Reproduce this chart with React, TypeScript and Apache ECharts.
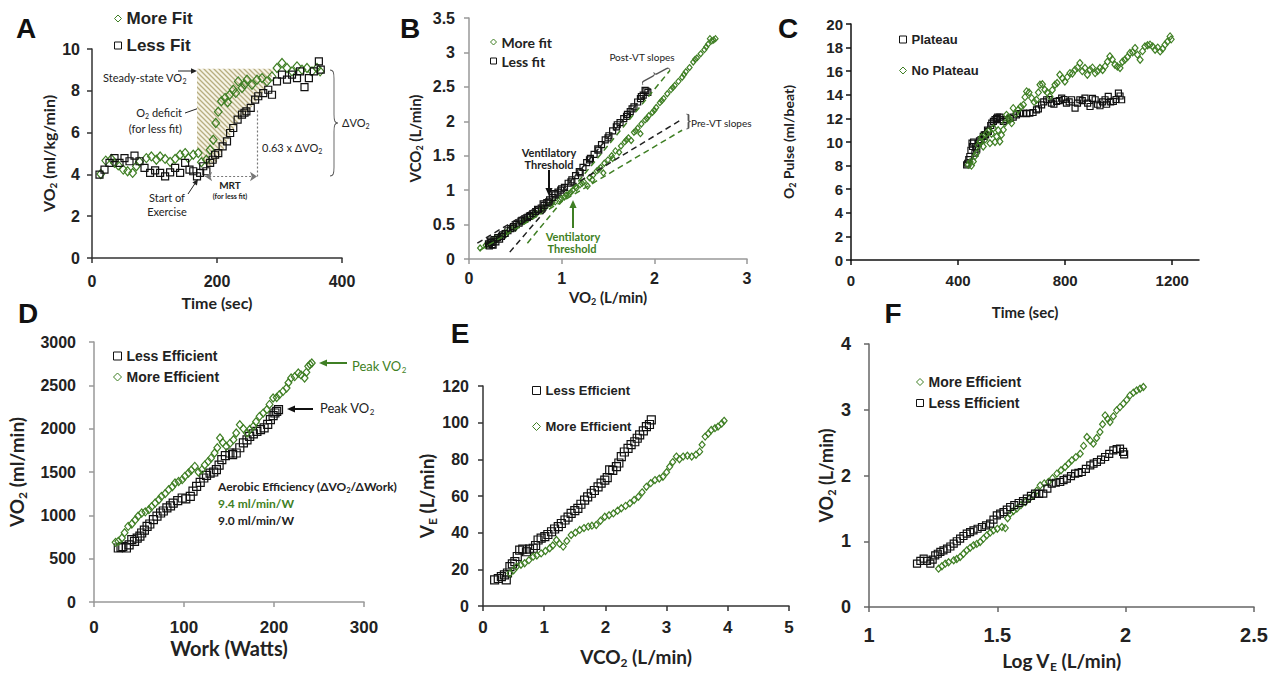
import React, { useEffect, useRef } from "react";
import * as echarts from "echarts";

const GREEN = "#3f7f24";
const BLACK = "#111";
const FT = "'Liberation Sans', Arial, sans-serif";
const FC = "Lato, 'Open Sans', sans-serif";

// ---------- Panel A: VO2 vs time ----------
const aMoreFit: number[][] = [
  [14, 4.02], [22, 4.66], [31, 4.74], [36, 4.55], [42, 4.43], [50, 4.23], [57, 4.15], [65, 4.07], [71, 4.39], [76, 4.6],
  [87, 4.78], [95, 4.86], [103, 4.7], [109, 4.86], [117, 4.74], [125, 4.6], [133, 4.74], [141, 4.94], [149, 5.02],
  [154, 4.78], [162, 4.94], [170, 5.02], [175, 4.58], [183, 4.7], [189, 5.18], [194, 5.66], [198, 6.46], [202, 7.0],
  [207, 7.5], [213, 7.66], [217, 7.45], [220, 7.8], [226, 8.05], [230, 7.9], [234, 8.45], [240, 8.13], [244, 8.3],
  [248, 8.53], [256, 8.29], [264, 8.53], [272, 8.61], [280, 8.45], [288, 8.69], [296, 9.09], [304, 9.33], [312, 9.09],
  [320, 8.93], [328, 9.17], [336, 9.01], [344, 9.09], [352, 8.93], [360, 9.09], [365, 8.93]
];
const aLessFit: number[][] = [
  [12, 3.99], [20, 4.23], [28, 4.55], [36, 4.78], [44, 4.55], [52, 4.78], [60, 4.63], [68, 4.9], [76, 4.63], [84, 4.31],
  [93, 4.07], [101, 4.19], [109, 4.07], [117, 3.91], [125, 4.1], [133, 4.31], [141, 4.07], [149, 4.55], [156, 4.23],
  [162, 4.15], [168, 3.91], [173, 4.07], [178, 4.39], [183, 4.15], [189, 4.55], [193, 4.7], [197, 4.94], [202, 5.02],
  [209, 5.34], [216, 5.58], [221, 5.98], [226, 6.22], [233, 6.62], [240, 6.86], [244, 6.95], [247, 7.02], [254, 7.18],
  [261, 7.58], [266, 7.74], [274, 7.89], [282, 8.05], [288, 7.81], [296, 8.45], [304, 8.77], [312, 8.53], [320, 8.77],
  [328, 8.61], [333, 8.93], [340, 8.18], [347, 8.61], [355, 8.93], [363, 9.41], [366, 9.01]
];
const aHatch: number[][] = [
  [168, 9.05], [293, 9.05], [282, 8.3], [266, 7.6], [252, 7.1], [238, 6.7], [225, 6.1], [212, 5.3], [200, 4.6],
  [186, 4.3], [168, 5.2]
];

// ---------- Panel B: VCO2 vs VO2 ----------
const bLessFit: number[][] = [
  [0.21, 0.22], [0.23, 0.26], [0.25, 0.21], [0.27, 0.28], [0.29, 0.25], [0.31, 0.31], [0.33, 0.29], [0.36, 0.35],
  [0.39, 0.37], [0.42, 0.41], [0.45, 0.44], [0.48, 0.47], [0.51, 0.5], [0.54, 0.52], [0.57, 0.56], [0.6, 0.58],
  [0.63, 0.6], [0.66, 0.63], [0.69, 0.66], [0.72, 0.69], [0.75, 0.71], [0.78, 0.74], [0.81, 0.78], [0.84, 0.82],
  [0.87, 0.86], [0.9, 0.89], [0.93, 0.93], [0.96, 0.97], [0.99, 1.0], [1.03, 1.04], [1.07, 1.1], [1.11, 1.15],
  [1.15, 1.21], [1.19, 1.27], [1.23, 1.33], [1.27, 1.4], [1.31, 1.46], [1.35, 1.52], [1.39, 1.6], [1.43, 1.66],
  [1.47, 1.73], [1.51, 1.79], [1.55, 1.86], [1.59, 1.92], [1.63, 1.98], [1.67, 2.04], [1.71, 2.1], [1.74, 2.14],
  [1.78, 2.21], [1.82, 2.28], [1.85, 2.33], [1.88, 2.38], [1.91, 2.44], [1.93, 2.42],
  [0.22, 0.19], [0.24, 0.24], [0.26, 0.2], [0.35, 0.33], [0.47, 0.45], [0.56, 0.55], [0.65, 0.62], [0.74, 0.72],
  [0.8, 0.8], [0.86, 0.83], [0.92, 0.95], [1.0, 1.02], [1.1, 1.12], [1.2, 1.25], [1.3, 1.44], [1.4, 1.58],
  [1.5, 1.76], [1.6, 1.95], [1.7, 2.07], [1.76, 2.18], [1.86, 2.36], [1.9, 2.45]
];
const bMoreFit: number[][] = [
  [0.12, 0.16], [0.18, 0.2], [0.24, 0.24], [0.28, 0.3], [0.33, 0.33], [0.38, 0.38], [0.43, 0.42], [0.48, 0.46],
  [0.53, 0.5], [0.58, 0.54], [0.63, 0.58], [0.68, 0.62], [0.73, 0.66], [0.78, 0.72], [0.83, 0.76], [0.88, 0.8],
  [0.93, 0.83], [0.98, 0.87], [1.03, 0.9], [1.08, 0.95], [1.12, 1.0], [1.16, 1.03], [1.2, 1.08], [1.24, 1.12],
  [1.28, 1.06], [1.3, 1.18], [1.34, 1.22], [1.38, 1.28], [1.42, 1.33], [1.45, 1.25], [1.46, 1.39], [1.5, 1.44],
  [1.54, 1.5], [1.58, 1.57], [1.62, 1.55], [1.64, 1.64], [1.68, 1.7], [1.72, 1.76], [1.75, 1.72], [1.78, 1.84],
  [1.82, 1.9], [1.86, 1.96], [1.9, 2.02], [1.94, 2.08], [1.98, 2.13], [2.02, 2.2], [2.06, 2.27], [2.1, 2.33],
  [2.14, 2.4], [2.18, 2.46], [2.22, 2.52], [2.26, 2.58], [2.3, 2.64], [2.34, 2.72], [2.38, 2.78], [2.42, 2.86],
  [2.46, 2.92], [2.5, 2.98], [2.54, 3.04], [2.58, 3.12], [2.62, 3.17], [2.66, 3.2],
  [0.2, 0.22], [0.3, 0.28], [0.4, 0.36], [0.5, 0.45], [0.6, 0.56], [0.7, 0.65], [0.8, 0.74], [0.9, 0.82],
  [1.0, 0.88], [1.05, 0.93], [1.1, 0.97], [1.15, 1.05], [1.22, 1.1], [1.33, 1.15], [1.4, 1.3], [1.55, 1.46],
  [1.7, 1.73], [1.8, 1.86], [1.85, 1.82], [1.92, 2.04], [2.0, 2.16], [2.08, 2.3], [2.2, 2.49], [2.32, 2.68],
  [2.44, 2.9], [2.56, 3.08], [2.6, 3.2], [2.64, 3.18]
];
const bPreBlack: number[][] = [[0.09, 0.23], [2.3, 2.03]];
const bPreGreen: number[][] = [[0.12, 0.13], [2.3, 1.87]];
const bPostBlack: number[][] = [[0.44, 0.1], [1.97, 2.5]];
const bPostGreen: number[][] = [[0.63, 0.23], [2.17, 2.74]];

// ---------- Panel C: O2 pulse vs time ----------
const cPlateau: number[][] = [
  [432, 8.06], [436, 8.2], [444, 8.77], [448, 9.3], [454, 9.62], [458, 10.0], [463, 9.05], [470, 9.4], [476, 9.9],
  [486, 10.2], [494, 10.47], [503, 10.6], [513, 10.9], [522, 11.4], [532, 11.74], [538, 11.9], [544, 12.0],
  [556, 12.1], [569, 11.74], [594, 12.0], [618, 12.3], [644, 12.45], [668, 12.45], [693, 12.73], [712, 13.15],
  [731, 13.58], [749, 13.3], [768, 13.44], [787, 13.72], [805, 13.3], [824, 13.58], [837, 12.87], [855, 13.58],
  [874, 13.72], [893, 13.01], [912, 13.58], [930, 13.07], [949, 13.58], [961, 13.86], [980, 13.44], [999, 14.14],
  [1011, 13.58],
  [440, 8.5], [452, 9.9], [466, 9.6], [480, 10.1], [498, 10.6], [510, 11.0], [526, 11.6], [548, 12.1], [560, 11.9],
  [580, 11.9], [606, 12.1], [630, 12.4], [656, 12.4], [680, 12.5], [700, 12.8], [720, 13.4], [740, 13.6], [758, 13.2],
  [778, 13.5], [796, 13.6], [815, 13.4], [846, 13.3], [864, 13.5], [884, 13.3], [902, 13.7], [921, 13.2], [940, 13.4],
  [955, 13.2], [970, 13.4], [990, 13.6], [1005, 13.9]
];
const cNoPlateau: number[][] = [
  [438, 8.06], [457, 8.35], [469, 9.05], [482, 10.04], [494, 9.62], [507, 10.75], [519, 9.9], [532, 11.17],
  [544, 10.47], [556, 10.04], [569, 11.03], [581, 12.3], [594, 11.88], [606, 12.87], [625, 12.73], [644, 13.15],
  [656, 14.29], [675, 13.72], [693, 13.58], [706, 14.85], [724, 14.43], [743, 13.86], [762, 14.85], [780, 15.7],
  [799, 15.13], [818, 15.84], [837, 16.12], [855, 16.69], [874, 16.27], [893, 16.12], [912, 15.84], [930, 16.27],
  [949, 16.41], [967, 17.26], [986, 16.55], [1005, 16.27], [1023, 16.97], [1042, 17.54], [1061, 17.96],
  [1080, 16.97], [1098, 18.1], [1117, 18.25], [1136, 17.82], [1155, 17.68], [1173, 18.25], [1192, 18.95],
  [445, 8.3], [450, 8.0], [463, 8.8], [475, 9.7], [488, 10.4], [500, 10.2], [513, 10.9], [525, 10.7], [538, 10.0],
  [550, 11.0], [562, 10.6], [575, 11.6], [588, 12.1], [600, 11.6], [615, 12.4], [634, 13.0], [650, 13.8],
  [665, 14.2], [684, 13.4], [700, 14.2], [715, 14.9], [733, 14.2], [752, 14.4], [770, 15.0], [790, 15.4],
  [808, 15.5], [827, 15.8], [846, 16.3], [864, 16.0], [883, 15.7], [902, 16.3], [921, 16.0], [940, 16.1],
  [958, 16.8], [976, 17.0], [995, 16.4], [1014, 16.8], [1033, 17.2], [1052, 17.6], [1070, 17.4], [1089, 17.7],
  [1108, 18.2], [1127, 18.1], [1146, 18.0], [1164, 17.9], [1182, 18.5], [1196, 18.7]
];

// ---------- Panel D: VO2 vs work ----------
const dLess: number[][] = [
  [27, 623], [32, 640], [36, 623], [42, 719], [48, 738], [53, 796], [59, 873], [66, 950], [74, 1027], [81, 1085],
  [88, 1142], [98, 1200], [107, 1219], [114, 1335], [122, 1431], [129, 1488], [136, 1527], [142, 1642], [151, 1719],
  [158, 1719], [166, 1835], [173, 1912], [181, 1969], [189, 2008], [196, 2104], [201, 2181], [205, 2219],
  [30, 630], [39, 660], [45, 700], [51, 760], [56, 830], [62, 900], [70, 990], [77, 1050], [85, 1110], [93, 1170],
  [102, 1190], [110, 1280], [118, 1380], [125, 1460], [133, 1500], [139, 1580], [146, 1690], [154, 1700],
  [162, 1780], [170, 1870], [177, 1940], [185, 1990], [193, 2050], [199, 2150], [203, 2200]
];
const dMore: number[][] = [
  [24, 688], [31, 738], [38, 873], [46, 950], [53, 1027], [61, 1065], [68, 1142], [75, 1219], [83, 1296],
  [90, 1373], [98, 1412], [105, 1488], [112, 1565], [120, 1527], [127, 1623], [134, 1719], [140, 1892], [147, 1796],
  [155, 1873], [162, 2046], [170, 1950], [177, 2027], [184, 2142], [192, 2219], [199, 2354], [206, 2392],
  [214, 2469], [219, 2585], [227, 2642], [234, 2585], [238, 2719], [242, 2758],
  [27, 700], [34, 800], [42, 900], [49, 990], [57, 1040], [64, 1100], [72, 1180], [79, 1250], [87, 1330],
  [94, 1390], [101, 1450], [108, 1520], [116, 1500], [123, 1580], [130, 1660], [137, 1780], [143, 1840],
  [151, 1830], [158, 1950], [166, 2000], [173, 1990], [180, 2080], [188, 2180], [195, 2280], [203, 2360],
  [210, 2430], [216, 2530], [223, 2600], [230, 2620], [236, 2650], [240, 2740]
];

// ---------- Panel E: VE vs VCO2 ----------
const eLess: number[][] = [
  [0.19, 14.2], [0.3, 16], [0.38, 14.2], [0.44, 21.5], [0.52, 24.2], [0.6, 30.5], [0.71, 29.6], [0.82, 31.5],
  [0.9, 36], [1.01, 37.8], [1.12, 40.5], [1.23, 43.3], [1.34, 46.9], [1.44, 50.5], [1.55, 53.3], [1.66, 57.8],
  [1.77, 61.5], [1.88, 65], [1.99, 68.7], [2.07, 74.2], [2.18, 76], [2.26, 81.5], [2.37, 86], [2.48, 89.6],
  [2.56, 93.3], [2.67, 97.8], [2.75, 101.5],
  [0.25, 15], [0.35, 17], [0.4, 18], [0.48, 23], [0.56, 27], [0.65, 31], [0.76, 31], [0.86, 33], [0.95, 37],
  [1.06, 39], [1.17, 42], [1.28, 45], [1.39, 48.5], [1.5, 52], [1.6, 55.5], [1.71, 59.5], [1.82, 63], [1.93, 67],
  [2.03, 70], [2.12, 74], [2.22, 78], [2.31, 84], [2.42, 88], [2.52, 91.5], [2.62, 95.5], [2.72, 99]
];
const eMore: number[][] = [
  [0.44, 17.8], [0.55, 21.5], [0.68, 23.3], [0.82, 26.9], [0.95, 28.7], [1.09, 31.5], [1.2, 36], [1.31, 32.4],
  [1.44, 38.7], [1.58, 41.5], [1.72, 43.3], [1.85, 44.2], [1.99, 48.7], [2.13, 50.5], [2.26, 53.3], [2.4, 56],
  [2.54, 59.6], [2.67, 65], [2.81, 68.7], [2.94, 70.5], [3.05, 76], [3.16, 81.5], [3.27, 81.5], [3.41, 81.5],
  [3.54, 84.2], [3.63, 92.4], [3.73, 96], [3.84, 97.8], [3.94, 101],
  [0.5, 19.5], [0.62, 22.5], [0.75, 25], [0.88, 27.5], [1.02, 30], [1.14, 33], [1.25, 34], [1.37, 35.5],
  [1.51, 40], [1.65, 42.5], [1.78, 43.8], [1.92, 46.5], [2.06, 49.5], [2.2, 52], [2.33, 54.6], [2.47, 57.8],
  [2.6, 62], [2.74, 67], [2.88, 69.5], [3.0, 73], [3.1, 78.5], [3.21, 80], [3.34, 82], [3.48, 82.5], [3.58, 88],
  [3.68, 94], [3.79, 97], [3.9, 99.5]
];

// ---------- Panel F: VO2 vs log VE ----------
const fLess: number[][] = [
  [1.187, 0.66], [1.213, 0.735], [1.239, 0.66], [1.258, 0.786], [1.278, 0.837], [1.304, 0.887], [1.33, 0.963],
  [1.355, 1.04], [1.381, 1.115], [1.407, 1.166], [1.44, 1.217], [1.472, 1.267], [1.498, 1.394], [1.524, 1.445],
  [1.55, 1.521], [1.583, 1.582], [1.615, 1.648], [1.647, 1.724], [1.679, 1.724], [1.712, 1.876], [1.745, 1.901],
  [1.771, 1.952], [1.803, 2.028], [1.829, 2.053], [1.862, 2.155], [1.888, 2.205], [1.92, 2.281], [1.952, 2.383],
  [1.978, 2.408], [1.994, 2.322],
  [1.2, 0.7], [1.226, 0.7], [1.248, 0.72], [1.268, 0.81], [1.29, 0.86], [1.317, 0.92], [1.342, 1.0], [1.368, 1.08],
  [1.394, 1.14], [1.423, 1.19], [1.456, 1.24], [1.485, 1.33], [1.511, 1.42], [1.537, 1.48], [1.566, 1.55],
  [1.6, 1.61], [1.631, 1.69], [1.663, 1.72], [1.695, 1.8], [1.728, 1.89], [1.758, 1.93], [1.787, 1.99],
  [1.816, 2.04], [1.845, 2.1], [1.875, 2.18], [1.904, 2.24], [1.936, 2.33], [1.965, 2.4], [1.99, 2.36]
];
const fMore: number[][] = [
  [1.271, 0.583], [1.297, 0.659], [1.33, 0.71], [1.355, 0.76], [1.381, 0.862], [1.407, 0.938], [1.433, 0.989],
  [1.459, 1.09], [1.485, 1.166], [1.518, 1.217], [1.531, 1.2], [1.55, 1.42], [1.576, 1.496], [1.609, 1.597],
  [1.641, 1.698], [1.667, 1.85], [1.699, 1.901], [1.732, 2.028], [1.764, 2.129], [1.79, 2.231], [1.823, 2.332],
  [1.849, 2.586], [1.874, 2.484], [1.9, 2.662], [1.92, 2.915], [1.939, 2.814], [1.965, 2.991], [1.991, 3.093],
  [2.017, 3.219], [2.043, 3.295], [2.069, 3.346],
  [1.284, 0.62], [1.31, 0.68], [1.342, 0.73], [1.368, 0.81], [1.394, 0.9], [1.42, 0.96], [1.446, 1.04],
  [1.472, 1.13], [1.5, 1.19], [1.54, 1.35], [1.563, 1.46], [1.592, 1.55], [1.625, 1.65], [1.654, 1.77],
  [1.683, 1.88], [1.715, 1.96], [1.748, 2.08], [1.777, 2.18], [1.806, 2.28], [1.836, 2.45], [1.862, 2.53],
  [1.887, 2.57], [1.91, 2.78], [1.93, 2.86], [1.952, 2.9], [1.978, 3.04], [2.004, 3.15], [2.03, 3.26], [2.056, 3.32]
];

echarts.graphic.registerShape(
  "brace",
  echarts.graphic.extendPath(
    "M0,0 C4,0 5,2 5,8 L5,42 C5,48 6,50 10,50 C6,50 5,52 5,58 L5,92 C5,98 4,100 0,100",
    {}
  )
);

function subStyle(size: number, weight: string, family: string, color?: string): any {
  const s: any = {
    fontSize: Math.round(size * 0.62),
    fontWeight: weight,
    fontFamily: family,
    verticalAlign: "top",
    padding: [Math.round(size * 0.6), 0, 0, 0]
  };
  if (color) s.fill = color;
  return s;
}

function arrow(x1: number, y1: number, x2: number, y2: number, color: string, lw = 1.5, head = 7): any[] {
  const a = Math.atan2(y2 - y1, x2 - x1);
  const hx = x2 - head * Math.cos(a);
  const hy = y2 - head * Math.sin(a);
  const px = -Math.sin(a) * head * 0.45;
  const py = Math.cos(a) * head * 0.45;
  return [
    { type: "line", silent: true, shape: { x1, y1, x2: hx, y2: hy }, style: { stroke: color, lineWidth: lw } },
    { type: "polygon", silent: true, shape: { points: [[x2, y2], [hx + px, hy + py], [hx - px, hy - py]] }, style: { fill: color } }
  ];
}

function txt(x: number, y: number, text: string, o: any = {}): any {
  const size = o.size || 11;
  const weight = o.weight || "normal";
  const family = o.family || FC;
  const color = o.color || "#222";
  return {
    type: "text",
    silent: true,
    x,
    y,
    style: {
      text,
      fontSize: size,
      fontWeight: weight,
      fontFamily: family,
      fill: color,
      align: o.align || "left",
      verticalAlign: "middle",
      rich: { s: subStyle(size, weight, family, color) }
    }
  };
}

function brace(x: number, y: number, h: number, w: number, rotation = 0): any {
  return {
    type: "brace",
    silent: true,
    x,
    y,
    rotation,
    scaleX: w / 10,
    scaleY: h / 100,
    style: { fill: "none", stroke: "#555", lineWidth: 1, strokeNoScale: true }
  };
}

const plain = (v: number) => String(v);

function xAxis(gi: number, min: number, max: number, interval: number, name: string, o: any): any {
  return {
    type: "value",
    gridIndex: gi,
    min,
    max,
    interval,
    name,
    nameLocation: "middle",
    nameGap: o.nameGap,
    nameTextStyle: {
      fontSize: o.nameSize, fontWeight: "bold", fontFamily: FC, color: "#222",
      rich: { s: subStyle(o.nameSize, "bold", FC) }
    },
    axisLine: { show: true, lineStyle: { color: o.line, width: 1.5 } },
    axisTick: { show: true, length: 5, lineStyle: { color: o.line, width: 1.5 } },
    axisLabel: {
      fontSize: o.labelSize, fontWeight: "bold", fontFamily: FT, color: "#222", margin: o.margin,
      showMaxLabel: o.showMax !== false, formatter: plain
    },
    splitLine: { show: false }
  };
}

function yAxis(gi: number, min: number, max: number, interval: number, name: string, o: any): any {
  return {
    type: "value",
    gridIndex: gi,
    min,
    max,
    interval,
    name,
    nameLocation: "middle",
    nameGap: o.nameGap,
    nameRotate: 90,
    nameTextStyle: {
      fontSize: o.nameSize, fontWeight: "bold", fontFamily: FC, color: "#222",
      rich: { s: subStyle(o.nameSize, "bold", FC) }
    },
    axisLine: { show: true, lineStyle: { color: o.line, width: 1.5 } },
    axisTick: { show: true, length: 5, lineStyle: { color: o.line, width: 1.5 } },
    axisLabel: { fontSize: o.labelSize, fontWeight: "bold", fontFamily: FT, color: "#222", margin: o.margin, formatter: plain },
    splitLine: { show: false }
  };
}

function sq(name: string, gi: number, data: number[][], size: number, extra: any = {}): any {
  return {
    type: "scatter",
    name,
    xAxisIndex: gi,
    yAxisIndex: gi,
    data,
    symbol: "rect",
    symbolSize: size,
    itemStyle: { color: "rgba(255,255,255,0)", borderColor: BLACK, borderWidth: 1.2, opacity: 1 },
    z: 3,
    ...extra
  };
}

function dm(name: string, gi: number, data: number[][], size: number, extra: any = {}): any {
  return {
    type: "scatter",
    name,
    xAxisIndex: gi,
    yAxisIndex: gi,
    data,
    symbol: "diamond",
    symbolSize: [size * 0.85, size],
    itemStyle: { color: "rgba(255,255,255,0)", borderColor: GREEN, borderWidth: 1.2, opacity: 1 },
    z: 3,
    ...extra
  };
}

function dashed(gi: number, data: number[][], color: string): any {
  return {
    type: "line",
    xAxisIndex: gi,
    yAxisIndex: gi,
    data,
    symbol: "none",
    silent: true,
    lineStyle: { color, width: 1.5, type: [6, 4] },
    z: 4
  };
}

function legend(left: number, top: number, names: string[], size: number, gap: number, icon: number, family = FT): any {
  return {
    left,
    top,
    padding: 0,
    orient: "vertical",
    itemGap: gap,
    itemWidth: icon,
    itemHeight: icon,
    selectedMode: false,
    itemStyle: { borderWidth: 1 },
    data: names,
    textStyle: { fontSize: size, fontWeight: "bold", fontFamily: family, color: "#222" }
  };
}

export default function App() {
  const ref = useRef<HTMLDivElement>(null);
  useEffect(() => {
    const el = ref.current;
    if (!el) return;
    const chart = echarts.init(el, null, { renderer: "svg" });

    const cv = document.createElement("canvas");
    cv.width = 5;
    cv.height = 5;
    const g = cv.getContext("2d");
    if (g) {
      g.fillStyle = "#f6f3e6";
      g.fillRect(0, 0, 5, 5);
      g.strokeStyle = "#b7ad80";
      g.lineWidth = 1.3;
      g.beginPath();
      g.moveTo(0, 0);
      g.lineTo(5, 5);
      g.moveTo(-1, 4);
      g.lineTo(1, 6);
      g.moveTo(4, -1);
      g.lineTo(6, 1);
      g.stroke();
    }
    const hatchFill: any = { image: cv, repeat: "repeat" };

    const L = { size: 28, weight: "bold", family: FT, color: "#111", align: "center" };
    const graphics: any[] = [
      // panel letters
      txt(26, 28, "A", L),
      txt(410, 28, "B", L),
      txt(788, 28, "C", L),
      txt(28, 313, "D", L),
      txt(460, 333, "E", L),
      txt(893, 313, "F", L),
      // Panel A annotations
      txt(103, 77, "Steady-state VO{s|2}", { size: 11 }),
      ...arrow(178, 71, 197, 71, "#222", 1, 6),
      txt(182, 112, "O{s|2} deficit", { size: 11, align: "right" }),
      txt(182, 128, "(for less fit)", { size: 11, align: "right" }),
      ...arrow(185, 113, 205, 106, "#222", 1, 6),
      txt(167, 197, "Start of", { size: 11, align: "center" }),
      txt(167, 211, "Exercise", { size: 11, align: "center" }),
      ...arrow(188, 194, 198, 179, "#222", 1, 6),
      txt(230, 185, "MRT", { size: 10, weight: "bold", align: "center" }),
      txt(230, 196, "(for less fit)", { size: 7, weight: "bold", align: "center" }),
      txt(262, 147, "0.63 x ΔVO{s|2}", { size: 11 }),
      brace(330, 70, 106, 8),
      txt(342, 122, "ΔVO{s|2}", { size: 11 }),
      // Panel B annotations
      txt(549, 152, "Ventilatory", { size: 11, weight: "bold", align: "center" }),
      txt(549, 164, "Threshold", { size: 11, weight: "bold", align: "center" }),
      ...arrow(549, 170, 549, 196, "#111", 2, 8),
      ...arrow(573, 228, 573, 200, GREEN, 2, 8),
      txt(573, 236, "Ventilatory", { size: 11, weight: "bold", align: "center", color: GREEN }),
      txt(572, 248, "Threshold", { size: 11, weight: "bold", align: "center", color: GREEN }),
      txt(642, 57, "Post-VT slopes", { size: 10, align: "center" }),
      brace(643, 85, 31, 6, 2.075),
      txt(691, 123, "Pre-VT slopes", { size: 10 }),
      brace(686, 114, 15, 5),
      // Panel D annotations
      ...arrow(347, 363, 319, 363, GREEN, 2, 8),
      txt(352, 366, "Peak VO{s|2}", { size: 13, color: GREEN }),
      ...arrow(313, 409, 287, 409, "#111", 2, 8),
      txt(320, 408, "Peak VO{s|2}", { size: 13, color: "#222" }),
      txt(218, 486, "Aerobic Efficiency (ΔVO{s|2}/ΔWork)", { size: 12, weight: "bold" }),
      txt(218, 503, "9.4 ml/min/W", { size: 12, weight: "bold", color: GREEN }),
      txt(218, 520, "9.0 ml/min/W", { size: 12, weight: "bold" })
    ];

    const option: any = {
      animation: false,
      backgroundColor: "#fff",
      grid: [
        { left: 92, top: 49, width: 250, height: 209 },
        { left: 469, top: 18, width: 278, height: 241 },
        { left: 851, top: 24, width: 348, height: 236 },
        { left: 94, top: 342, width: 270, height: 260 },
        { left: 483, top: 386, width: 306, height: 220 },
        { left: 869, top: 344, width: 385, height: 263 }
      ],
      xAxis: [
        xAxis(0, 0, 400, 200, "Time (sec)", { nameGap: 36, nameSize: 16, labelSize: 16, margin: 15, line: "#333" }),
        xAxis(1, 0, 3, 1, "VO{s|2} (L/min)", { nameGap: 29, nameSize: 15, labelSize: 16, margin: 11, line: "#999" }),
        xAxis(2, 0, 1300, 400, "Time (sec)", { nameGap: 44, nameSize: 15, labelSize: 15, margin: 13, line: "#111", showMax: false }),
        xAxis(3, 0, 300, 100, "Work (Watts)", { nameGap: 36, nameSize: 20, labelSize: 17, margin: 17, line: "#999" }),
        xAxis(4, 0, 5, 1, "VCO{s|2} (L/min)", { nameGap: 39, nameSize: 19, labelSize: 17, margin: 13, line: "#333" }),
        xAxis(5, 1, 2.5, 0.5, "Log V{s|E} (L/min)", { nameGap: 42, nameSize: 19, labelSize: 20, margin: 18, line: "#666" })
      ],
      yAxis: [
        yAxis(0, 0, 10, 2, "VO{s|2} (ml/kg/min)", { nameGap: 33, nameSize: 16, labelSize: 16, margin: 12, line: "#333" }),
        yAxis(1, 0, 3.5, 0.5, "VCO{s|2} (L/min)", { nameGap: 45, nameSize: 15, labelSize: 16, margin: 14, line: "#999" }),
        yAxis(2, 0, 20, 2, "O{s|2} Pulse (ml/beat)", { nameGap: 54, nameSize: 14, labelSize: 15, margin: 8, line: "#111" }),
        yAxis(3, 0, 3000, 500, "VO{s|2} (ml/min)", { nameGap: 66, nameSize: 19, labelSize: 16, margin: 18, line: "#999" }),
        yAxis(4, 0, 120, 20, "V{s|E} (L/min)", { nameGap: 45, nameSize: 19, labelSize: 16, margin: 14, line: "#333" }),
        yAxis(5, 0, 4, 1, "VO{s|2} (L/min)", { nameGap: 27, nameSize: 18, labelSize: 18, margin: 18, line: "#666" })
      ],
      legend: [
        legend(114, 10, ["More Fit", "Less Fit"], 17, 10, 7),
        legend(490, 35, ["More fit", "Less fit"], 14, 5, 6, FC),
        legend(899, 33, ["Plateau", "No Plateau"], 13, 18, 7),
        legend(113, 349, ["Less Efficient", "More Efficient"], 14, 7, 8),
        legend(532, 384, ["Less Efficient", "More Efficient"], 13, 23, 8),
        legend(916, 375, ["More Efficient", "Less Efficient"], 14, 7, 7)
      ],
      series: [
        {
          type: "custom",
          xAxisIndex: 0,
          yAxisIndex: 0,
          silent: true,
          z: 1,
          data: [[0, 0]],
          renderItem: (_p: any, api: any) => ({
            type: "polygon",
            shape: { points: aHatch.map((p) => api.coord(p)) },
            style: { fill: hatchFill, stroke: "none" }
          })
        },
        dm("More Fit", 0, aMoreFit, 9),
        sq("Less Fit", 0, aLessFit, 7, {
          markLine: {
            silent: true,
            symbol: ["none", "none"],
            label: { show: false },
            lineStyle: { color: "#777", type: [2, 2], width: 1.2 },
            data: [
              [{ coord: [181, 3.9], symbol: "arrow", symbolSize: 7 }, { coord: [264, 3.9], symbol: "arrow", symbolSize: 7 }],
              [{ coord: [264, 3.9] }, { coord: [264, 7.1] }]
            ]
          }
        }),
        dashed(1, bPreBlack, "#222"),
        dashed(1, bPreGreen, GREEN),
        dashed(1, bPostBlack, "#222"),
        dashed(1, bPostGreen, GREEN),
        dm("More fit", 1, bMoreFit, 6),
        sq("Less fit", 1, bLessFit, 6),
        sq("Plateau", 2, cPlateau, 6),
        dm("No Plateau", 2, cNoPlateau, 7),
        sq("Less Efficient", 3, dLess, 8),
        dm("More Efficient", 3, dMore, 8),
        sq("Less Efficient", 4, eLess, 8),
        dm("More Efficient", 4, eMore, 7),
        dm("More Efficient", 5, fMore, 7),
        sq("Less Efficient", 5, fLess, 7)
      ],
      graphic: { elements: graphics }
    };
    chart.setOption(option);
    return () => chart.dispose();
  }, []);
  return (
    <div
      ref={ref}
      style={{ position: "fixed", left: 0, top: 0, width: 1284, height: 674, background: "#fff" }}
    />
  );
}
